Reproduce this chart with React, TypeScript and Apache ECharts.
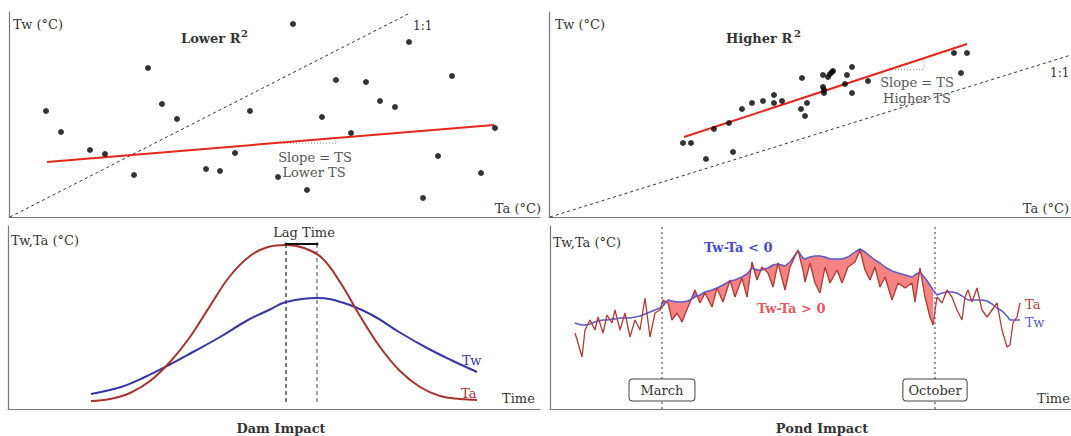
import React, { useEffect, useRef } from "react";
import * as echarts from "echarts";

// ---------- Top-left panel: Lower R² (Ta vs Tw, arbitrary units) ----------
const lowTa = [284, 400, 139, 443, 327, 357, 153, 371, 386, 37, 168, 241, 313, 52, 342, 486, 81, 96, 226, 429, 125, 197, 211, 269, 472, 298, 414];
const lowTw = [193, 175, 149, 141, 137, 135, 113, 116, 110, 106, 98, 106, 100, 85, 84, 89, 67, 63, 64, 61, 42, 48, 46, 40, 44, 27, 19];
const lowFitTa = [38, 485];
const lowFitTw = [55, 92];
const lowOneTa = [1, 401];
const lowOneTw = [0, 204];
const lowSlopeRun = [266, 327];

// ---------- Top-right panel: Higher R² ----------
const hiTa = [134, 142, 157, 165, 180, 184, 193, 203, 214, 225, 225, 233, 253, 252, 256, 258, 274, 274, 275, 275, 279, 281, 283, 284, 298, 296, 303, 303, 319, 405, 412, 418];
const hiTw = [74, 74, 58, 88, 94, 65, 108, 114, 116, 122, 114, 116, 139, 108, 101, 114, 142, 130, 127, 124, 140, 143, 145, 146, 142, 133, 150, 124, 136, 164, 144, 164];
const hiFitTa = [135, 418];
const hiFitTw = [80, 173];
const hiOneTa = [1, 522];
const hiOneTw = [0, 162];
const hiSlopeRun = [340, 375];

// ---------- Bottom-left panel: Dam impact (seasonal curves) ----------
const damTaTime = [83, 102, 122, 142, 162, 182, 202, 222, 242, 260, 278, 296, 314, 332, 352, 372, 392, 412, 432, 452, 469];
const damTa = [8, 10, 16, 28, 47, 72, 103, 133, 153, 162, 164, 161, 151, 127, 93, 62, 38, 22, 13, 10, 9];
const damTwTime = [83, 113, 137, 161, 185, 212, 240, 261, 278, 309, 336, 364, 391, 419, 443, 469];
const damTw = [15, 22, 32, 44, 57, 72, 89, 99, 107, 111, 106, 94, 77, 61, 49, 37];
const lagBase = 7;

// ---------- Bottom-right panel: Pond impact (daily series) ----------
const pondDay = [25, 28, 32, 35, 40, 45, 48, 53, 57, 62, 65, 70, 75, 80, 85, 90, 95, 100, 105, 110,
  113, 118, 122, 127, 132, 138, 145, 150, 155, 162, 167, 173, 180, 185, 192, 197, 202, 207, 212, 218, 223, 228, 235, 240, 248, 253, 255, 260,
  265, 270, 275, 280, 287, 292, 298, 305, 310, 315, 320, 325, 330, 335, 342, 348, 355, 362, 365, 370, 375, 380, 383, 387, 392, 397, 402, 407, 412, 415, 418, 422, 427, 432, 437, 442, 447, 452, 457, 460, 463, 467, 470];
const pondTa = [76, 66, 52, 79, 89, 79, 92, 76, 94, 86, 99, 79, 96, 72, 89, 79, 111, 72, 96, 99,
  109, 106, 89, 96, 87, 102, 119, 106, 116, 102, 121, 107, 129, 112, 131, 112, 147, 129, 142, 136, 122, 146, 119, 142, 159, 139, 127, 146,
  126, 116, 142, 126, 139, 126, 142, 147, 159, 139, 129, 142, 122, 132, 109, 126, 121, 126, 107, 141, 112, 92, 84, 112, 106, 119, 112, 99, 89, 112, 119, 107, 121, 99, 92, 99, 106, 79, 62, 64, 86, 92, 106];
const pondTw = [86, 85, 84, 84, 85, 87, 88, 89, 89, 90, 90, 91, 91, 91, 92, 93, 95, 97, 99, 101,
  103, 109, 108, 107, 107, 108, 112, 114, 117, 119, 121, 124, 128, 129, 132, 135, 141, 139, 139, 141, 144, 145, 143, 147, 158, 151, 150, 152,
  153, 153, 152, 150, 150, 150, 152, 157, 160, 157, 153, 149, 146, 142, 138, 136, 134, 132, 134, 137, 131, 124, 119, 114, 116, 117, 117, 116, 113, 111, 109, 109, 109, 109, 108, 105, 101, 98, 93, 89, 89, 89, 89];
const marchDay = 112;
const octoberDay = 385;
const monthLabelLevel = 19;
const monthNames = ["March", "October"];
const monthDays = [marchDay, octoberDay];

const FONT = '"DejaVu Serif", "Liberation Serif", serif';

export default function App() {
  const ref = useRef<HTMLDivElement>(null);
  useEffect(() => {
    if (!ref.current) return;
    const chart = echarts.init(ref.current, undefined, { renderer: "svg" });

    const axisLine = { show: true, onZero: false, lineStyle: { color: "#777", width: 1.2 } };
    const mkAxis = (gi: number, max: number) => ({
      type: "value", gridIndex: gi, min: 0, max,
      axisLine, axisTick: { show: false }, axisLabel: { show: false }, splitLine: { show: false },
    });

    const pairs = (xs: number[], ys: number[]) => xs.map((x, i) => [x, ys[i]]);
    const fitAt = (xs: number[], ys: number[], x: number) => ys[0] + ((x - xs[0]) * (ys[1] - ys[0])) / (xs[1] - xs[0]);
    const slopeTri = (xs: number[], ys: number[], run: number[]) => {
      const y0 = fitAt(xs, ys, run[0]);
      const y1 = fitAt(xs, ys, run[1]);
      return [[run[0], y0], [run[1], y0], [run[1], y1]];
    };

    const noSym = { symbol: "none", silent: true };
    const scatterStyle = { type: "scatter", symbolSize: 6, itemStyle: { color: "#000" }, silent: true, z: 5 };
    const oneToOne = { type: "line", ...noSym, lineStyle: { color: "#333", width: 1, type: [3, 3] } };
    const fitLine = { type: "line", ...noSym, lineStyle: { color: "#e8251c", width: 2 }, z: 4 };
    const dotted = { type: "line", ...noSym, lineStyle: { color: "#888", width: 1, type: [1, 2] } };

    // Dam: peaks
    const taPeakIdx = damTa.indexOf(Math.max(...damTa));
    const twPeakIdx = damTw.indexOf(Math.max(...damTw));
    const lagStart = damTaTime[taPeakIdx];
    const lagEnd = damTwTime[twPeakIdx];
    const lagBarY = damTa[taPeakIdx] + 1;

    // Pond: fill segments between March and October
    const fillData: number[][] = [];
    for (let i = 0; i < pondDay.length - 1; i++) {
      if (pondDay[i] >= marchDay && pondDay[i + 1] <= octoberDay) {
        fillData.push([pondDay[i], pondTa[i], pondTw[i], pondDay[i + 1], pondTa[i + 1], pondTw[i + 1]]);
      }
    }
    const POS = "#f58383";
    const NEG = "#7d7de8";

    const txt = (text: string, x: number, y: number, o: any = {}) => ({
      type: "text", x, y, z: 100, silent: true,
      style: {
        text, fill: o.color || "#333", fontSize: o.size || 13, fontFamily: FONT,
        fontWeight: o.weight || "normal", align: o.align || "left", verticalAlign: "middle",
      },
    });

    const option: any = {
      animation: false,
      grid: [
        { left: 9, top: 12, width: 531, height: 205 },
        { left: 549, top: 12, width: 522, height: 205 },
        { left: 8, top: 226, width: 532, height: 183 },
        { left: 550, top: 226, width: 521, height: 183 },
      ],
      xAxis: [mkAxis(0, 531), mkAxis(1, 522), mkAxis(2, 532), mkAxis(3, 521)],
      yAxis: [mkAxis(0, 205), mkAxis(1, 205), mkAxis(2, 183), mkAxis(3, 183)],
      series: [
        // Top-left
        { ...oneToOne, xAxisIndex: 0, yAxisIndex: 0, data: pairs(lowOneTa, lowOneTw) },
        { ...dotted, xAxisIndex: 0, yAxisIndex: 0, data: slopeTri(lowFitTa, lowFitTw, lowSlopeRun) },
        { ...fitLine, xAxisIndex: 0, yAxisIndex: 0, data: pairs(lowFitTa, lowFitTw) },
        { ...scatterStyle, xAxisIndex: 0, yAxisIndex: 0, data: pairs(lowTa, lowTw) },
        // Top-right
        { ...oneToOne, xAxisIndex: 1, yAxisIndex: 1, data: pairs(hiOneTa, hiOneTw) },
        { ...dotted, xAxisIndex: 1, yAxisIndex: 1, data: slopeTri(hiFitTa, hiFitTw, hiSlopeRun) },
        { ...fitLine, xAxisIndex: 1, yAxisIndex: 1, data: pairs(hiFitTa, hiFitTw) },
        { ...scatterStyle, xAxisIndex: 1, yAxisIndex: 1, data: pairs(hiTa, hiTw) },
        // Bottom-left
        { type: "line", ...noSym, xAxisIndex: 2, yAxisIndex: 2, lineStyle: { color: "#222", width: 1.2, type: [4, 3] }, data: [[lagStart, lagBase], [lagStart, lagBarY]] },
        { type: "line", ...noSym, xAxisIndex: 2, yAxisIndex: 2, lineStyle: { color: "#444", width: 1, type: [4, 3] }, data: [[lagEnd, lagBase], [lagEnd, lagBarY]] },
        { type: "line", ...noSym, xAxisIndex: 2, yAxisIndex: 2, smooth: 0.4, lineStyle: { color: "#3535a8", width: 2 }, data: pairs(damTwTime, damTw) },
        { type: "line", ...noSym, xAxisIndex: 2, yAxisIndex: 2, smooth: 0.4, lineStyle: { color: "#a8322d", width: 2 }, data: pairs(damTaTime, damTa) },
        { type: "line", symbol: "circle", symbolSize: 3, silent: true, xAxisIndex: 2, yAxisIndex: 2, itemStyle: { color: "#111" }, lineStyle: { color: "#111", width: 2 }, data: [[lagStart, lagBarY], [lagEnd, lagBarY]], z: 6 },
        // Bottom-right
        {
          type: "custom", xAxisIndex: 3, yAxisIndex: 3, silent: true, z: 2,
          encode: { x: [0, 3], y: [1, 2, 4, 5] },
          data: fillData,
          renderItem: (_p: any, api: any) => {
            const d0 = api.value(0), a0 = api.value(1), w0 = api.value(2);
            const d1 = api.value(3), a1 = api.value(4), w1 = api.value(5);
            const poly = (pts: number[][], c: string) => ({
              type: "polygon", shape: { points: pts.map((p) => api.coord(p)) },
              style: { fill: c, stroke: c, lineWidth: 0.6 },
            });
            const df0 = w0 - a0, df1 = w1 - a1;
            if (df0 * df1 >= 0) {
              return poly([[d0, w0], [d1, w1], [d1, a1], [d0, a0]], df0 + df1 >= 0 ? POS : NEG);
            }
            const t = df0 / (df0 - df1);
            const dc = d0 + t * (d1 - d0);
            const yc = w0 + t * (w1 - w0);
            return {
              type: "group",
              children: [
                poly([[d0, w0], [dc, yc], [d0, a0]], df0 > 0 ? POS : NEG),
                poly([[dc, yc], [d1, w1], [d1, a1]], df1 > 0 ? POS : NEG),
              ],
            };
          },
        },
        { type: "line", ...noSym, xAxisIndex: 3, yAxisIndex: 3, lineStyle: { color: "#555", width: 1.2, type: [2, 3] }, data: [[marchDay, 0], [marchDay, 183]] },
        { type: "line", ...noSym, xAxisIndex: 3, yAxisIndex: 3, lineStyle: { color: "#555", width: 1.2, type: [2, 3] }, data: [[octoberDay, 0], [octoberDay, 183]] },
        { type: "line", ...noSym, xAxisIndex: 3, yAxisIndex: 3, lineStyle: { color: "#5b5bd0", width: 1.5 }, data: pairs(pondDay, pondTw), z: 3 },
        { type: "line", ...noSym, xAxisIndex: 3, yAxisIndex: 3, lineStyle: { color: "#b23b36", width: 1.3 }, data: pairs(pondDay, pondTa), z: 4 },
      ],
      graphic: [
        // Top-left
        txt("Tw (°C)", 13, 24),
        txt("Lower R", 181, 38, { weight: "bold" }),
        txt("2", 241, 33, { weight: "bold", size: 10 }),
        txt("1:1", 413, 26, { size: 12 }),
        txt("Slope = TS", 315, 157, { align: "center", color: "#555" }),
        txt("Lower TS", 314, 172, { align: "center", color: "#555" }),
        txt("Ta (°C)", 541, 208, { align: "right" }),
        // Top-right
        txt("Tw (°C)", 555, 24),
        txt("Higher R", 726, 38, { weight: "bold" }),
        txt("2", 794, 33, { weight: "bold", size: 10 }),
        txt("1:1", 1050, 73, { size: 12 }),
        txt("Slope = TS", 917, 82, { align: "center", color: "#555" }),
        txt("Higher TS", 917, 98, { align: "center", color: "#555" }),
        txt("Ta (°C)", 1069, 208, { align: "right" }),
        // Bottom-left
        txt("Tw,Ta (°C)", 11, 240),
        txt("Lag Time", 304, 232, { align: "center" }),
        txt("Tw", 462, 360, { color: "#3535a8" }),
        txt("Ta", 461, 393, { color: "#a8322d" }),
        txt("Time", 502, 398),
        txt("Dam Impact", 281, 428, { weight: "bold", align: "center" }),
        // Bottom-right
        txt("Tw,Ta (°C)", 553, 242),
        txt("Tw-Ta < 0", 704, 247, { color: "#4a4ad0", weight: "bold" }),
        txt("Tw-Ta > 0", 757, 308, { color: "#e85a5a", weight: "bold" }),
        txt("Ta", 1025, 304, { color: "#b23b36" }),
        txt("Tw", 1025, 322, { color: "#5b5bd0" }),
        txt("Time", 1037, 398),
        txt("Pond Impact", 822, 428, { weight: "bold", align: "center" }),
      ],
    };
    chart.setOption(option);

    // Month boxes placed through the pond panel's scales
    const pads = [[4, 11], [4, 5]];
    const boxes = monthNames.map((name, i) => {
      const p = chart.convertToPixel({ gridIndex: 3 }, [monthDays[i], monthLabelLevel]) as number[];
      return {
        type: "text", x: p[0], y: p[1], z: 120, silent: true,
        style: {
          text: name, fill: "#333", fontSize: 13, fontFamily: FONT, align: "center", verticalAlign: "middle",
          backgroundColor: "#fff", borderColor: "#444", borderWidth: 1, borderRadius: 3, padding: pads[i],
        },
      };
    });
    chart.setOption({ graphic: [...option.graphic, ...boxes] }, { replaceMerge: ["graphic"] });

    return () => chart.dispose();
  }, []);
  return <div ref={ref} style={{ position: "absolute", left: 0, top: 0, width: 1071, height: 436 }} />;
}
